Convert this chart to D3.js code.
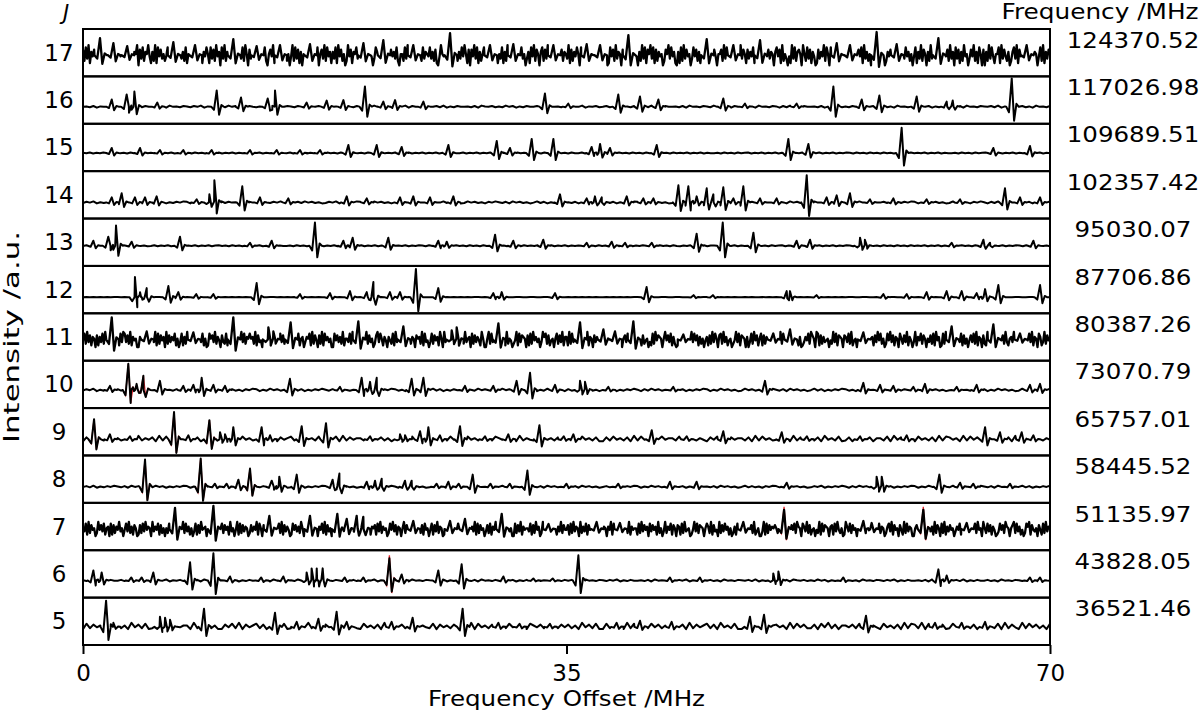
<!DOCTYPE html>
<html>
<head>
<meta charset="utf-8">
<script src="https://cdn.jsdelivr.net/npm/d3@7"></script>
<style>
  body { margin: 0; background: #fff; }
  svg { display: block; font-family: "DejaVu Sans", sans-serif; }
</style>
</head>
<body>
<svg id="chart" width="1200" height="711"></svg>
<script>
// rotational level J, top to bottom, and the centre frequency of each window
var levels = [17, 16, 15, 14, 13, 12, 11, 10, 9, 8, 7, 6, 5];
var centerFreqs = ["124370.52", "117026.98", "109689.51", "102357.42", "95030.07", "87706.86",
    "80387.26", "73070.79", "65757.01", "58445.52", "51135.97", "43828.05", "36521.46"];
var xTicks = [0, 35, 70];

// baseline of each trace (a.u.) and size of its noise floor
var baselines = [0.5, 0.1, 0.2, 0, 0.4, 0, 0.5, 0.2, 0, 0, 0.5, 0.1, 0.2];
var noiseAmp = [1.0, 0.18, 0.15, 0.18, 0.15, 0.12, 0.75, 0.22, 0.35, 0.18, 0.7, 0.18, 0.4];

// noise floor, one digit per sample (0 = low, 9 = high)
var noise17 = "7283916472381927460581639274512947381659073826594162918473524817293650936281547027583916485183729460839261748516473829507395162847382057491661793842504928371605826374915805739284616381947250294716583971583926403862917453917463820552839471601749283654836271049549173628502638495170749381625808293745615381629470927461835036184927506827391540194837265" +
    "3917264850827461930556392817401847293650729481635040629381759381726450275938461061829374503847261950819362740557293841600486293751736481925029184736506847192530419382675095283716401736492850839271645030648291757481936250592837164026473918509173846250481639275062938174501584729360837162945037492618507062938415581937426026839174509417382650482916375";
var noise16 = "45362547365463527364453627453653647254635374635264354637524653645274634635274536526374536445372645365463725364453627546353746253644635274536" +
    "53647254634635274536546372536445362745365374635264463527453652637453644536275463536452746346352745365374625364453627453654637253644635274536";
var noise15 = "54635463546453645364546354636545364536456354635463546354635446354635465364536453645364536454635463546354635463446354635463546354645364536453645364" +
    "46354635465364536453645364536454635463544536453645635463546354635463544635463546536453645364536453645463546354453645364563546354635463546354";
var noise14 = "36472536475362746352473625364762537463527364527364452736473652637463523647253647635274635247362536475264736452374635264753627463524736253647" +
    "53627463524736253647625374635236472536475263746352473635264763527463523746253647536274635246372536476253746352374635264752637463524736253647";
var noise13 = "46354635465364536453463546354635463546356453645364546354635445364536456354635463546354635446354635465364536453645364536453645364536454635463546354" +
    "53645364534635463546645364536435463546355463546354453645364563546354634635463546536453645364536453645463546354453645364546354635465364536453";
var noise12 = "45454545455454545454455445544554455445544545454545545455454545454454545454545454545545544554455445544554454545454554545454544554455445544554" +
    "54545454544545454545544554455445544554455454545454454544545454545545454545454545455445544554455445544554455454545454454545454554455445544554";
var noise11 = "482937165071638294052947561839837291645006284937155391827460927364815038162957406492738150185739264073281649504071938265856291734027394816506183729405942738156036581927407291846350084736291553829174608164927350279385164064281937501938472650756291834038274619509361827450471829356082736419500592837461683719254024918376507182946350396827145058273916" +
    "6192837450284739165073619284504928173650057382941686391724503182947650594738162017263948509384716250461729385078293614502493817650603829471581726394503751928460592837416013648297509817263450429381765076382914500482937165617394825028493716508527391640391648275053728194601829374650946381725047382916507219384650086472931563918274502748391650861392745";
var noise10 = "36472536476352746352473625364752637463523746352647625374635247362536475362746352364725364763527463524736253647526374635237463526476253746352" +
    "63527463523647253647526374635247362536476253746352374635264753627463524736253647635274635236472536475263746352473625364762537463523746352647";
var noise9 = "27384637296384729364729384637238472938466372938463274839274683729463824738293746638294736237293847267462938473284637293864738293643827463729" +
    "72938463722738463729384729384663847293642748392746637293846347382937468372946382372938472663829473622846372938746293847338274637296473829364";
var noise8 = "46372536475362746352374625364762537463524736352647536274635236472536476352746352473625364752637463523746352647625374635247362536475362746352" +
    "53627463524637253647625374635237462536475362746352473635264763527463523647253647526374635247362536476253746352374635264753627463524736253647";
var noise7 = "638192745029473815608172649350483926175017283946509364817250528391746074928361503817294560063819274582746193504918273650273649185073918264505829173640184736295092738146506482917350371829465083619274500492837165718392645028493716505927381640936271845048173926501739284650826491735063918274503728164950749281635008273916455381729460294718365081639274" +
    "4718293650926381745028391746506491827350073829164551829374608374619250392648175076182934501493827650586291734092738461502618394750684729135003918274657528391640317482965086392714504291837650671839425019638274505824739160913748265026839174507419283650057283914648361927508291637450364819275061738294509528371640138472965057928361402869174350741829365";
var noise6 = "53647253644635274536536472546345362745365463725364463527453653746253644536275463536472536446352745365463725364453627453653746253644635274536" +
    "46352745365364725364453627453653647254634635274536546372536445362754635374625364463527453653647253644536274536546372536446352745365374625364";
var noise5 = "28374629387362947382384729374662938473622748392746837294638237284937267462938473284637293864738293643827463729739284637229384736286473829374" +
    "73629473822837462938629384736238472937468372946382274839274674629384733728493726647382936428463729387392846372382746372964738293742938473628";
var noiseStrings = [noise17, noise16, noise15, noise14, noise13, noise12, noise11, noise10, noise9, noise8, noise7, noise6, noise5];

// transitions seen in each window: [offset MHz, peak height a.u.]
var peaks17 = [[1.23, 1.7], [2.2, 1.2], [3.2, 0.9], [6.54, 1.3], [8.11, 1.0], [10.88, 1.6], [12.57, 0.9], [14.26, 1.0], [16.43, 1.1], [20.3, 1.2], [21.74, 1.5], [23.91, 1.0], [26.57, 2.2], [29.46, 1.0], [31.15, 1.1], [34.05, 1.0], [36.46, 1.1], [37.43, 1.0], [39.48, 2.0], [45.15, 1.6], [47.08, 1.0], [49.01, 1.5], [54.56, 1.2], [55.52, 1.0], [57.45, 2.3], [58.9, 1.1], [61.92, 1.7], [68.31, 1.0]];
var peaks16 = [[2.08, 0.7], [3.16, 1.2], [3.72, 1.5], [5.38, 0.4], [9.68, 1.6], [11.44, 0.9], [13.37, 0.8], [13.9, 1.6], [16.19, 0.4], [17.64, 0.6], [18.85, 0.65], [20.41, 2.0], [21.74, 0.5], [22.59, 0.65], [24.64, 0.5], [33.44, 1.3], [35.13, 0.3], [38.75, 1.2], [40.32, 1.0], [41.65, 0.7], [46.35, 0.8], [47.92, 0.3], [51.66, 0.3], [54.32, 2.0], [56.37, 0.7], [57.65, 1.1], [60.35, 1.0], [62.52, 0.5], [62.96, 0.6], [67.23, 2.8]];
var peaks15 = [[2.08, 0.5], [4.13, 0.5], [5.57, 0.3], [7.26, 0.3], [9.31, 0.3], [12.09, 0.3], [14.02, 0.3], [15.71, 0.3], [17.16, 0.3], [19.21, 0.8], [21.26, 0.8], [23.07, 0.6], [26.45, 0.8], [29.95, 1.2], [30.91, 0.5], [32.48, 1.4], [34.05, 1.4], [36.82, 0.6], [37.43, 0.9], [38.15, 0.5], [41.53, 0.8], [51.06, 1.4], [52.51, 0.9], [59.26, 2.5], [65.9, 0.5], [68.55, 0.7]];
var peaks14 = [[2.08, 0.5], [2.8, 0.9], [3.76, 0.5], [4.49, 0.5], [5.33, 0.6], [8.23, 0.3], [9.15, 0.8], [9.51, 2.2], [11.53, 1.6], [12.81, 0.5], [14.86, 0.4], [19.09, 0.6], [20.54, 0.4], [22.95, 0.5], [23.91, 0.6], [25.12, 0.5], [26.81, 0.6], [34.53, 0.8], [36.46, 0.4], [37.06, 0.6], [37.55, 0.5], [39.36, 0.6], [40.56, 0.4], [41.29, 0.4], [43.1, 1.7], [43.82, 1.6], [44.42, 0.6], [45.15, 1.4], [45.63, 0.8], [46.35, 1.5], [47.08, 0.4], [47.8, 1.6], [49.01, 0.4], [50.21, 0.4], [52.39, 2.7], [53.83, 0.5], [54.56, 0.7], [55.52, 0.9], [56.97, 0.3], [58.66, 0.4], [61.07, 0.3], [63.49, 0.3], [66.74, 1.4], [67.83, 0.5], [69.28, 0.5]];
var peaks13 = [[0.75, 0.5], [1.83, 0.9], [2.39, 2.0], [3.52, 0.4], [7.02, 0.9], [12.09, 0.3], [13.66, 0.5], [16.79, 2.3], [18.85, 0.5], [19.52, 0.8], [22.1, 0.8], [25.72, 0.5], [26.33, 0.4], [29.83, 1.1], [31.15, 0.5], [33.32, 0.6], [36.46, 0.3], [38.27, 0.4], [39.24, 0.3], [41.17, 0.3], [44.42, 1.2], [46.31, 2.3], [48.53, 1.3], [51.66, 0.5], [52.63, 0.6], [56.25, 0.8], [56.6, 0.6], [62.88, 0.3], [65.18, 0.6], [65.66, 0.3], [68.8, 0.5]];
var peaks12 = [[3.76, 2.0], [4.13, 0.5], [4.61, 0.9], [6.18, 1.1], [6.9, 0.5], [8.2, 0.3], [9.44, 0.3], [12.57, 1.4], [15.71, 0.3], [17.88, 0.4], [19.33, 0.6], [20.54, 0.5], [21.02, 1.5], [22.22, 0.5], [22.95, 0.5], [24.1, 2.8], [25.72, 0.9], [29.7, 0.4], [30.31, 0.5], [34.17, 0.4], [40.8, 1.0], [44.2, 0.2], [45.6, 0.2], [50.94, 0.6], [51.18, 0.6], [53.1, 0.2], [57.94, 0.3], [59.63, 0.3], [61.07, 0.5], [62.52, 0.6], [63.61, 0.6], [64.69, 0.4], [65.3, 0.8], [66.26, 1.2], [69.28, 1.2]];
var peaks11 = [[2.08, 2.2], [4.61, 0.8], [7.99, 0.7], [10.88, 2.2], [13.42, 1.2], [13.78, 0.8], [15.03, 1.7], [19.93, 1.8], [23.19, 1.3], [26.69, 0.9], [27.05, 1.2], [30.07, 1.6], [35.98, 1.7], [37.67, 1.0], [38.51, 0.8], [39.84, 1.8], [43.46, 0.5], [49.97, 0.6], [51.18, 1.0], [56.49, 0.7], [62.88, 1.3], [65.9, 1.5], [67.83, 0.6]];
var peaks10 = [[1.95, 0.4], [3.28, 2.6], [3.88, 0.6], [4.37, 1.4], [5.57, 0.9], [7.26, 0.4], [7.99, 0.5], [8.59, 1.2], [9.44, 0.5], [10.28, 0.4], [14.98, 1.1], [18.6, 0.3], [20.17, 1.2], [20.78, 0.8], [21.26, 1.2], [23.79, 1.1], [24.64, 1.2], [27.65, 0.4], [29.7, 0.4], [31.39, 0.9], [32.36, 1.7], [34.17, 0.5], [35.98, 0.9], [36.34, 0.8], [38.03, 0.3], [42.73, 0.3], [49.37, 0.9], [56.49, 0.7], [57.7, 0.5], [58.66, 0.4], [60.11, 0.3], [60.95, 0.6], [63.25, 0.3], [64.69, 0.5], [68.55, 0.5], [69.28, 0.6]];
var peaks9 = [[0.8, 2.0], [1.95, 0.5], [3.4, 0.3], [6.59, 2.7], [7.63, 0.4], [9.15, 1.9], [9.92, 0.7], [10.28, 0.5], [10.88, 1.2], [12.93, 1.2], [13.54, 0.4], [15.83, 1.3], [17.59, 1.6], [20.78, 0.3], [22.95, 0.5], [23.31, 0.4], [24.4, 0.8], [25.0, 1.2], [25.84, 0.4], [27.29, 1.3], [29.1, 0.3], [30.79, 0.5], [33.04, 1.4], [34.8, 0.3], [35.5, 0.5], [41.17, 0.9], [43.7, 0.3], [46.35, 0.8], [50.58, 0.7], [52.4, 0.3], [56.25, 0.3], [59.63, 0.4], [65.3, 1.2], [66.38, 0.7], [67.95, 0.7], [68.8, 0.4]];
var peaks8 = [[4.49, 2.7], [8.52, 2.8], [9.55, 0.3], [10.4, 0.3], [11.25, 0.7], [12.09, 1.8], [13.66, 0.6], [14.21, 1.0], [15.47, 1.2], [18.07, 0.7], [18.56, 1.3], [20.54, 0.5], [21.14, 0.6], [21.62, 0.8], [23.31, 0.6], [23.79, 0.6], [25.6, 0.3], [26.45, 0.5], [27.2, 0.3], [28.21, 1.2], [29.5, 0.3], [30.9, 0.3], [32.17, 1.6], [35.0, 0.3], [38.75, 0.3], [42.49, 0.5], [44.42, 0.5], [50.94, 0.4], [57.45, 1.0], [57.82, 1.0], [61.99, 1.2], [63.49, 0.4], [64.45, 0.3], [67.11, 0.3]];
var peaks7 = [[6.66, 2.1], [9.44, 2.3], [13.49, 1.3], [16.43, 1.3], [18.41, 1.5], [19.09, 1.0], [19.81, 1.3], [20.29, 1.2], [23.91, 0.8], [26.57, 0.8], [27.65, 1.0], [30.31, 1.5], [33.7, 0.5], [37.18, 0.7], [38.87, 0.6], [47.8, 0.7], [50.75, 1.9], [56.49, 0.8], [57.09, 0.6], [60.83, 1.9], [63.97, 0.6]];
var peaks6 = [[0.75, 1.0], [1.35, 0.8], [3.5, 0.3], [4.25, 0.3], [5.09, 0.8], [7.75, 1.8], [9.44, 2.7], [10.64, 0.4], [12.9, 0.3], [14.5, 0.4], [16.19, 0.8], [16.55, 1.2], [16.92, 1.2], [17.35, 1.2], [18.95, 0.3], [20.3, 0.3], [22.18, 2.2], [23.07, 0.6], [25.72, 1.0], [27.41, 1.6], [30.43, 0.4], [32.6, 0.2], [34.0, 0.2], [35.86, 2.5], [42.49, 0.3], [44.66, 0.3], [49.97, 0.7], [50.34, 0.9], [55.04, 0.3], [61.92, 1.1], [62.52, 0.5], [68.55, 0.3], [69.28, 0.3]];
var peaks5 = [[1.67, 2.6], [2.2, 0.4], [5.57, 1.0], [5.94, 0.9], [6.3, 0.7], [8.76, 1.8], [13.9, 1.4], [15.47, 0.5], [17.04, 0.8], [18.36, 1.5], [19.09, 0.5], [22.34, 0.5], [23.86, 0.9], [27.48, 1.8], [30.07, 0.4], [31.6, 0.3], [33.8, 0.3], [38.63, 0.4], [40.32, 0.6], [42.61, 0.5], [48.28, 1.0], [49.3, 1.2], [56.68, 1.1], [61.68, 0.4], [63.61, 0.4], [65.3, 0.5]];
var peakLists = [peaks17, peaks16, peaks15, peaks14, peaks13, peaks12, peaks11, peaks10, peaks9, peaks8, peaks7, peaks6, peaks5];

// predicted lines (red), drawn under the measured trace: [J, offset MHz, height]
var predicted = [[10, 3.28, 2.6], [10, 4.37, 1.4], [9, 0.8, 2.0], [9, 6.59, 2.7], [9, 9.15, 1.9], [8, 4.49, 2.7], [8, 8.52, 2.8], [8, 12.09, 1.8], [7, 50.75, 2.2], [7, 60.83, 2.2], [6, 22.18, 2.5]];

// line shape of one transition (offset MHz, fraction of peak height)
var shapeX = [-0.4, -0.2, 0, 0.17, 0.34, 0.5];
var shapeY = [0, -0.2, 1, -0.5, 0.1, 0];

var svg = d3.select("#chart");
var plotLeft = 83, plotRight = 1050, plotTop = 29, plotBottom = 645;

var x = d3.scaleLinear().domain([0, 70]).range([plotLeft, plotRight]);
var band = d3.scaleBand().domain(levels).range([plotTop, plotBottom]);

function buildTrace(noiseStr, amp, peaks) {
    var n = noiseStr.length;
    var pts = [];
    noiseStr.split("").forEach(function (c, i) {
        var f = i * 70 / (n - 1);
        var inPeak = peaks.some(function (p) {
            return f > p[0] + shapeX[0] && f < p[0] + shapeX[shapeX.length - 1];
        });
        if (!inPeak) pts.push([f, (+c - 4.5) / 4.5 * amp]);
    });
    peaks.forEach(function (p) {
        shapeX.forEach(function (dx, k) {
            pts.push([p[0] + dx, p[1] * shapeY[k]]);
        });
    });
    pts.sort(function (a, b) { return a[0] - b[0]; });
    return pts.filter(function (p) { return p[0] >= 0 && p[0] <= 70; });
}

levels.forEach(function (J, i) {
    var y0 = band(J);
    var h = band.bandwidth();
    var y = d3.scaleLinear().domain([-1.6, 3.1]).range([y0 + h, y0]);
    var base = baselines[i];
    var noisy = noiseStrings[i].length > 400;

    svg.append("clipPath").attr("id", "clip" + J)
        .append("rect").attr("x", plotLeft).attr("y", y0).attr("width", plotRight - plotLeft).attr("height", h);

    var line = d3.line()
        .x(function (d) { return x(d[0]); })
        .y(function (d) { return y(d[1] + base); });

    var g = svg.append("g").attr("clip-path", "url(#clip" + J + ")");

    // red predicted lines first
    predicted.filter(function (d) { return d[0] === J; }).forEach(function (d) {
        var pts = shapeX.map(function (dx, k) { return [d[1] + dx, d[2] * shapeY[k]]; });
        g.append("path").attr("d", line(pts))
            .attr("fill", "none").attr("stroke", "#e3242b").attr("stroke-width", 1.3);
    });

    g.append("path")
        .attr("d", line(buildTrace(noiseStrings[i], noiseAmp[i], peakLists[i])))
        .attr("fill", "none")
        .attr("stroke", "#000")
        .attr("stroke-width", noisy ? 2.3 : 2)
        .attr("stroke-linejoin", "round");

    svg.append("rect")
        .attr("x", plotLeft).attr("y", y0)
        .attr("width", plotRight - plotLeft).attr("height", h)
        .attr("fill", "none").attr("stroke", "#000").attr("stroke-width", 2);

    // J label on the left
    svg.append("text")
        .attr("x", 59).attr("y", y0 + h / 2)
        .attr("text-anchor", "middle").attr("dominant-baseline", "central")
        .style("font-size", "23px")
        .text(J);

    // centre frequency on the right
    var t = svg.append("text")
        .attr("x", 1133).attr("y", y0 + h / 2 - 12)
        .attr("text-anchor", "middle").attr("dominant-baseline", "central")
        .style("font-size", "20.6px")
        .text(centerFreqs[i]);
    t.attr("textLength", t.node().getComputedTextLength() * 1.19).attr("lengthAdjust", "spacingAndGlyphs");
});

// x axis
var xAxis = svg.append("g")
    .attr("transform", "translate(0," + plotBottom + ")")
    .call(d3.axisBottom(x).tickValues(xTicks).tickSize(9).tickPadding(11).tickFormat(d3.format("d")));
xAxis.select(".domain").remove();
xAxis.selectAll(".tick line").attr("stroke", "#000").attr("stroke-width", 2);
xAxis.selectAll(".tick text").attr("fill", "#000")
    .style("font-size", "23px").style("font-family", "DejaVu Sans, sans-serif");

svg.append("text")
    .attr("x", 566.5).attr("y", 706)
    .attr("text-anchor", "middle")
    .style("font-size", "22px")
    .attr("textLength", 277).attr("lengthAdjust", "spacingAndGlyphs")
    .text("Frequency Offset /MHz");

svg.append("text")
    .attr("transform", "translate(19," + ((plotTop + plotBottom) / 2) + ") rotate(-90)")
    .attr("text-anchor", "middle")
    .style("font-size", "22px")
    .attr("textLength", 212).attr("lengthAdjust", "spacingAndGlyphs")
    .text("Intensity /a.u.");

svg.append("text")
    .attr("x", 1100).attr("y", 18.5)
    .attr("text-anchor", "middle")
    .style("font-size", "21.5px")
    .attr("textLength", 197).attr("lengthAdjust", "spacingAndGlyphs")
    .text("Frequency /MHz");

svg.append("text")
    .attr("x", 66).attr("y", 20)
    .attr("text-anchor", "middle")
    .style("font-size", "21px").style("font-style", "italic")
    .text("J");
</script>
</body>
</html>
